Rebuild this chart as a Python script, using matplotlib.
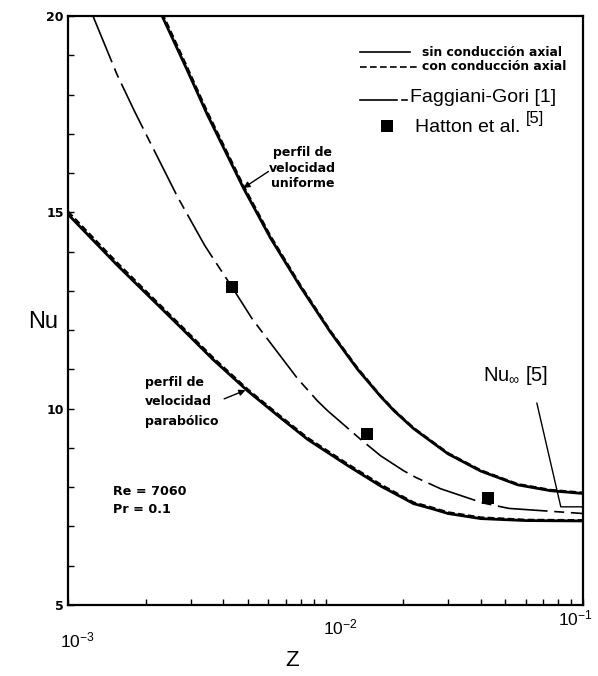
import matplotlib
matplotlib.use("Agg")
import matplotlib.pyplot as plt
from matplotlib.ticker import FixedLocator, NullFormatter
from matplotlib.transforms import ScaledTranslation

plt.rcParams['mathtext.fontset'] = 'custom'
plt.rcParams['mathtext.rm'] = 'Liberation Sans'
plt.rcParams['mathtext.it'] = 'Liberation Sans:italic'
plt.rcParams['mathtext.bf'] = 'Liberation Sans:bold'

# --- Nusselt number vs axial coordinate Z (Re = 7060, Pr = 0.1) ---
# uniform velocity profile
z_unif = [0.00232, 0.00290, 0.00348, 0.0048, 0.00611, 0.0080, 0.01045, 0.01333,
          0.01637, 0.0185, 0.0220, 0.0299, 0.0401, 0.0558, 0.075, 0.1]
nu_unif_sin = [20.0, 18.63, 17.48, 15.62, 14.35, 13.10, 11.95, 11.00,
               10.31, 9.94, 9.49, 8.85, 8.41, 8.06, 7.91, 7.84]
nu_unif_con = [20.08, 18.70, 17.55, 15.68, 14.40, 13.14, 11.98, 11.03,
               10.33, 9.96, 9.51, 8.87, 8.43, 8.08, 7.93, 7.86]

# parabolic velocity profile
z_parab = [0.001, 0.00155, 0.00273, 0.00366, 0.00497, 0.00668, 0.00851,
           0.0122, 0.01637, 0.0220, 0.0260, 0.0299, 0.0401, 0.060, 0.1]
nu_parab_sin = [14.95, 13.66, 12.08, 11.25, 10.46, 9.77, 9.22,
                8.55, 8.03, 7.58, 7.45, 7.33, 7.20, 7.15, 7.14]
nu_parab_con = [15.02, 13.72, 12.13, 11.30, 10.50, 9.81, 9.26,
                8.59, 8.07, 7.61, 7.48, 7.36, 7.23, 7.17, 7.16]

# Faggiani-Gori [1]
z_fg = [0.00125, 0.00155, 0.00182, 0.00266, 0.0034, 0.00438, 0.0052, 0.00778, 0.0093,
        0.01018, 0.01368, 0.01637, 0.0201, 0.0224, 0.028, 0.0408, 0.0515, 0.1]
nu_fg = [20.0, 18.51, 17.55, 15.40, 14.15, 13.05, 12.28, 10.77, 10.20,
         9.95, 9.22, 8.80, 8.42, 8.25, 7.96, 7.60, 7.46, 7.33]

# Hatton et al. [5]
z_hatton = [0.00434, 0.01455, 0.0427]
nu_hatton = [13.09, 9.35, 7.73]

# fully developed value Nu_inf [5]
nu_inf = 7.5

x_ticks = [1e-3, 1e-2, 1e-1]
x_ticklabels = [r'$\mathregular{10^{-3}}$', r'$\mathregular{10^{-2}}$', r'$\mathregular{10^{-1}}$']
y_ticks = [5, 10, 15, 20]
y_ticklabels = ['5', '10', '15', '20']

fig = plt.figure(figsize=(5.98, 6.76), dpi=100)
ax = fig.add_axes([68 / 598, 71 / 676, 515 / 598, 589 / 676])

ax.set_xscale('log')
ax.set_xlim(1e-3, 1e-1)
ax.set_ylim(5, 20)

bold = dict(family='DejaVu Sans', weight='bold')
helv = dict(family='Liberation Sans')

# thick curves: solid (no axial conduction) with dashed overlay (axial conduction)
for z, ns, nc in [(z_unif, nu_unif_sin, nu_unif_con),
                  (z_parab, nu_parab_sin, nu_parab_con)]:
    ax.plot(z, ns, color='black', lw=2.0, solid_capstyle='butt', solid_joinstyle='round')
    ax.plot(z, nc, color='black', lw=1.6, linestyle=(0, (3, 1.5)))

ax.plot(z_fg, nu_fg, color='black', lw=1.2, linestyle=(0, (30, 4, 6, 4)),
        solid_joinstyle='round')
ax.plot(z_hatton, nu_hatton, linestyle='none', marker='s', ms=8.5,
        color='black', markeredgewidth=0, zorder=5)

# axes styling
for sp in ax.spines.values():
    sp.set_linewidth(1.6)
ax.xaxis.set_major_locator(FixedLocator(x_ticks))
ax.xaxis.set_minor_locator(FixedLocator(
    [m * d for d in (1e-3, 1e-2) for m in range(2, 10)]))
ax.xaxis.set_minor_formatter(NullFormatter())
ax.set_xticklabels(x_ticklabels, fontsize=12.5, **helv)
ax.yaxis.set_major_locator(FixedLocator(y_ticks))
ax.yaxis.set_minor_locator(FixedLocator(range(6, 20)))
ax.set_yticklabels(y_ticklabels, fontsize=9, **bold)
ax.tick_params(axis='both', which='both', direction='in', length=4, width=1.0,
               top=False, right=False)
ax.tick_params(axis='x', which='both', pad=14)
ax.tick_params(axis='y', which='both', pad=3)

# x tick labels follow the slight tilt of the printed axis
for lab, (dx, dy) in zip(ax.get_xticklabels(), [(9, -6), (15, 7), (-8, 16)]):
    lab.set_transform(lab.get_transform() +
                      ScaledTranslation(dx / 100, dy / 100, fig.dpi_scale_trans))

fig.text(43 / 598, 1 - 322 / 676, 'Nu', fontsize=17, ha='center', va='center', **helv)
fig.text(292 / 598, 1 - 660 / 676, 'Z', fontsize=16, ha='center', va='center', **helv)


def axpt(px, py):
    return ((px - 68) / 515, (605 - py) / 589)


# legend
T = ax.transAxes
x0, x1 = axpt(360, 52)[0], axpt(410, 52)[0]
ax.plot([x0, x1], [axpt(0, 52)[1]] * 2, color='black', lw=1.2, transform=T)
ax.text(*axpt(422, 52), 'sin conducción axial', fontsize=8.9, va='center', transform=T, **bold)
x1 = axpt(418, 66)[0]
ax.plot([x0, x1], [axpt(0, 67)[1]] * 2, color='black', lw=1.2,
        linestyle=(0, (4, 2)), transform=T)
ax.text(*axpt(422, 66), 'con conducción axial', fontsize=8.9, va='center', transform=T, **bold)
ax.plot([x0, axpt(397, 0)[0]], [axpt(0, 100)[1]] * 2, color='black', lw=1.2, transform=T)
ax.plot([axpt(402, 0)[0], axpt(407, 0)[0]], [axpt(0, 100)[1]] * 2, color='black', lw=1.2,
        transform=T)
ax.text(*axpt(410, 98), 'Faggiani-Gori [1]', fontsize=14, va='center', transform=T, **helv)
ax.plot(*axpt(387, 126), marker='s', ms=8.5, color='black', markeredgewidth=0, transform=T)
ax.text(*axpt(415, 127), 'Hatton et al.', fontsize=14, va='center', transform=T, **helv)
ax.text(*axpt(526, 119), '[5]', fontsize=12, va='center', transform=T, **helv)

# curve labels with arrows (placed in data coordinates next to the curves)
ax.text(0.00815, 16.12, 'perfil de\nvelocidad\nuniforme', fontsize=9, ha='center',
        va='center', linespacing=1.25, **bold)
ax.annotate('', xy=(0.0048, 15.62), xytext=(0.0060, 16.04),
            arrowprops=dict(arrowstyle='-|>', color='black', lw=1.0,
                            mutation_scale=9, shrinkA=0, shrinkB=0))
ax.text(0.00199, 10.17, 'perfil de\nvelocidad\nparabólico', fontsize=9, ha='left',
        va='center', linespacing=1.65, **bold)
ax.annotate('', xy=(0.00489, 10.47), xytext=(0.00404, 10.25),
            arrowprops=dict(arrowstyle='-|>', color='black', lw=1.0,
                            mutation_scale=9, shrinkA=0, shrinkB=0))

ax.text(0.0015, 7.88, 'Re = 7060', fontsize=9.2, va='center', **bold)
ax.text(0.0015, 7.42, 'Pr = 0.1', fontsize=9.2, va='center', **bold)

# Nu_inf leader
ax.text(0.0408, 10.85, r'Nu$_\infty$ [5]', fontsize=14.5, va='center', **helv)
ax.plot([0.0662, 0.082, 0.1], [10.14, nu_inf, nu_inf], color='black', lw=1.0)

fig.savefig('out.png', dpi=100)
